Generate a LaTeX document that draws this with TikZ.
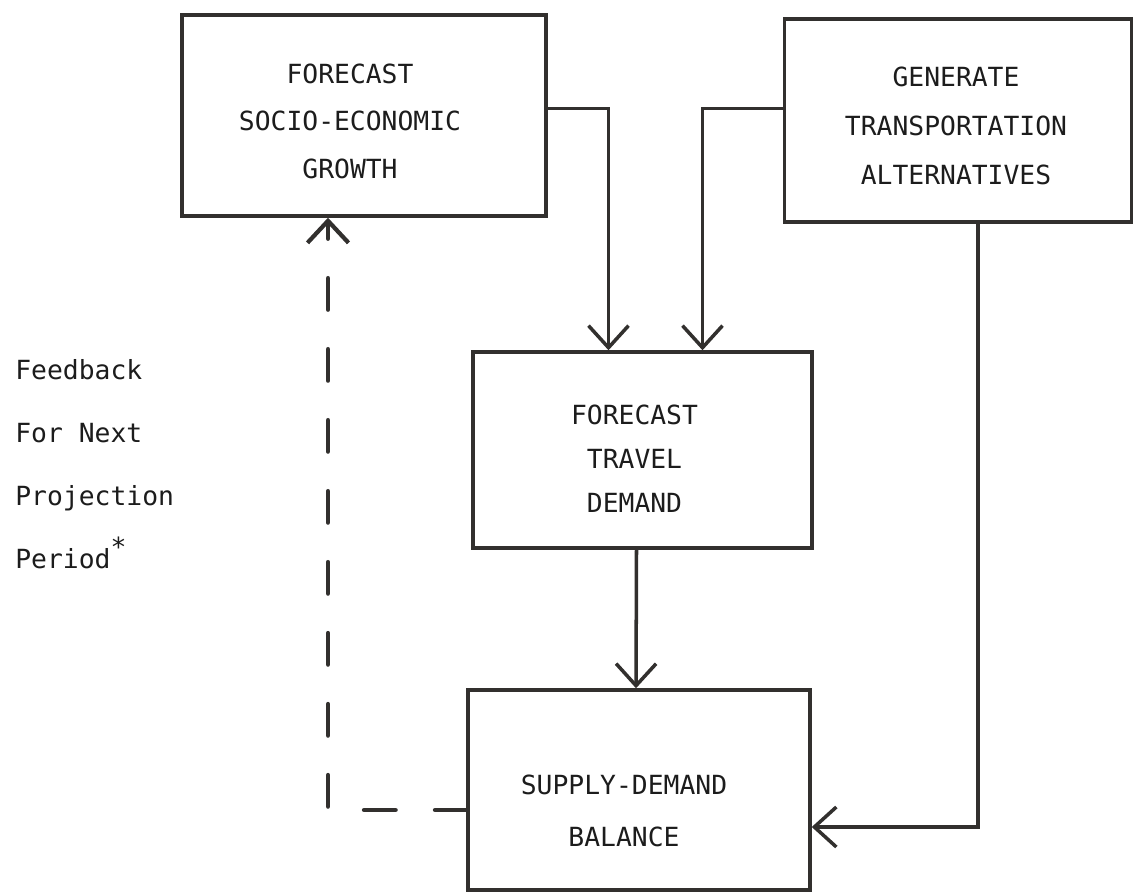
\documentclass[tikz,border=0pt]{standalone}
\usepackage{fontspec}
\setmonofont{DejaVu Sans Mono}
\usetikzlibrary{arrows.meta,calc}
\definecolor{ink}{RGB}{50,48,46}
\definecolor{txt}{RGB}{28,28,28}
% centred block of lines, nudged by (#1 right, #2 down) without changing its size
\newcommand\boxlines[3]{\raisebox{-#2}[\height][\depth]{\kern#1\relax
  \begin{tabular}{@{}c@{}}#3\end{tabular}\kern-#1\relax}}
\begin{document}
\begin{tikzpicture}[x=0.02cm,y=-0.02cm,
  box/.style={draw=ink,line width=2pt,fill=none,text=txt,inner sep=0pt},
  flow/.style={draw=ink,line width=2pt,line join=miter,
    -{Straight Barb[length=0.44cm,width=0.8cm,line width=2pt]}},
  feedback/.style={draw=ink,line width=2.8pt,line cap=round,
    dash pattern=on 0.62cm off 0.8cm,
    -{Straight Barb[length=0.44cm,width=0.82cm,line width=2.4pt]}},
  note/.style={text=txt,font=\ttfamily\fontsize{15}{35.8}\selectfont,
    align=left,inner sep=0pt}]
\useasboundingbox (0,0) rectangle (1135,895);

% process boxes
\node[box,minimum width=7.28cm,minimum height=4.02cm,
  font=\ttfamily\fontsize{15}{27}\selectfont] (A) at (364,115.5)
  {\boxlines{-0.28cm}{0.12cm}{FORECAST\\SOCIO-ECONOMIC\\GROWTH}};
\node[box,minimum width=6.94cm,minimum height=4.06cm,
  font=\ttfamily\fontsize{15}{27.9}\selectfont] (B) at (958,120.5)
  {\boxlines{-0.04cm}{0.1cm}{GENERATE\\TRANSPORTATION\\ALTERNATIVES}};
\node[box,minimum width=6.78cm,minimum height=3.92cm,
  font=\ttfamily\fontsize{15}{25}\selectfont] (C) at (642.5,450)
  {\boxlines{-0.16cm}{0.2cm}{FORECAST\\TRAVEL\\DEMAND}};
\node[box,minimum width=6.84cm,minimum height=4.0cm,
  font=\ttfamily\fontsize{15}{30}\selectfont] (D) at (639,790)
  {\boxlines{-0.3cm}{0.4cm}{SUPPLY-DEMAND\\BALANCE}};

% side note for the feedback loop
\node[note,anchor=base west] (N) at (15,568)
  {Feedback\\For Next\\Projection\\Period\raisebox{0.45em}{*}};

% forward flow
\draw[flow] ($(A.east)+(0,-7)$) -| ($(C.north)+(-34,0)$);
\draw[flow] ($(B.west)+(0,-12)$) -| ($(C.north)+(60,0)$);
\draw[flow] ($(C.south)+(-6,0)$) -- ($(D.north)+(-3,0)$);
\draw[flow] ($(B.south)+(20,0)$) |- ($(D.east)+(0,37)$);

% feedback to the next projection period
\draw[feedback] ($(D.west)+(0,20)$) -| ($(A.south)+(-36,0)$);
\end{tikzpicture}
\end{document}
